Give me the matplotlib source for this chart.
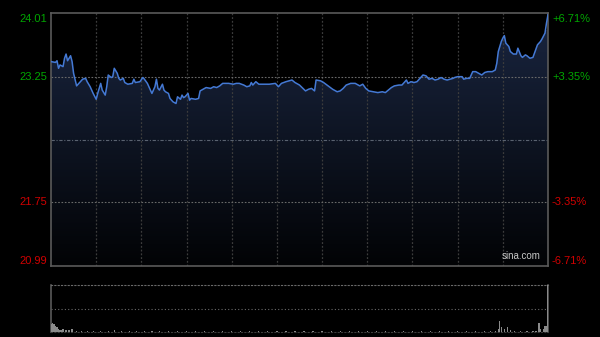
import numpy as np
import matplotlib
matplotlib.use("Agg")
import matplotlib.pyplot as plt
from matplotlib.patches import Polygon

# intraday price, minute index -> price
minutes = [0, 3, 4, 5, 6, 8, 9, 10, 11, 13, 14, 15, 17, 19, 21, 23, 24, 26, 28, 30,
           31, 33, 34, 36, 37, 38, 40, 41, 42, 44, 45, 46, 48, 49, 51, 54, 55, 56, 59, 61,
           62, 64, 66, 67, 68, 69, 70, 71, 72, 74, 75, 76, 78, 79, 81, 83, 84, 86, 87, 88,
           89, 91, 92, 93, 96, 98, 99, 101, 103, 106, 108, 110, 112, 114, 118, 121, 123, 125, 128, 130,
           132, 133, 134, 136, 138, 141, 145, 149, 151, 153, 156, 160, 162, 165, 169, 171, 173, 175, 176, 179,
           181, 184, 187, 190, 192, 194, 196, 199, 202, 205, 207, 209, 211, 214, 217, 220, 222, 224, 226, 228,
           231, 233, 234, 236, 237, 239, 241, 243, 245, 247, 249, 251, 253, 255, 257, 259, 261, 263, 265, 267,
           268, 270, 273, 274, 276, 278, 280, 282, 284, 286, 288, 290, 293, 295, 296, 297, 299, 300, 301, 302,
           304, 305, 307, 309, 310, 312, 313, 315, 316, 318, 320, 321, 323, 325, 326, 328, 329, 330]
prices = [23.43, 23.42, 23.44, 23.35, 23.39, 23.37, 23.47, 23.52, 23.44, 23.50, 23.43, 23.29, 23.14, 23.18, 23.22, 23.23, 23.19, 23.13, 23.05, 22.98,
          23.05, 23.17, 23.09, 23.03, 23.13, 23.27, 23.24, 23.25, 23.35, 23.29, 23.23, 23.21, 23.23, 23.18, 23.16, 23.17, 23.22, 23.18, 23.19, 23.24,
          23.22, 23.17, 23.09, 23.05, 23.09, 23.13, 23.22, 23.11, 23.09, 23.16, 23.09, 23.07, 23.05, 22.99, 22.95, 22.93, 23.01, 22.98, 23.03, 23.00,
          23.01, 23.05, 22.97, 22.99, 22.98, 22.99, 23.08, 23.10, 23.12, 23.11, 23.13, 23.12, 23.14, 23.17, 23.17, 23.16, 23.17, 23.17, 23.15, 23.13,
          23.14, 23.18, 23.15, 23.19, 23.16, 23.16, 23.16, 23.17, 23.13, 23.17, 23.19, 23.21, 23.18, 23.15, 23.08, 23.10, 23.11, 23.08, 23.21, 23.20,
          23.18, 23.14, 23.10, 23.07, 23.08, 23.11, 23.15, 23.17, 23.17, 23.14, 23.16, 23.11, 23.08, 23.07, 23.06, 23.07, 23.06, 23.09, 23.12, 23.14,
          23.15, 23.15, 23.17, 23.21, 23.17, 23.19, 23.18, 23.19, 23.23, 23.27, 23.26, 23.22, 23.23, 23.21, 23.22, 23.24, 23.22, 23.21, 23.22, 23.23,
          23.24, 23.25, 23.25, 23.22, 23.23, 23.23, 23.31, 23.31, 23.29, 23.27, 23.30, 23.31, 23.31, 23.33, 23.41, 23.55, 23.67, 23.71, 23.74, 23.65,
          23.61, 23.55, 23.52, 23.52, 23.59, 23.50, 23.48, 23.51, 23.50, 23.47, 23.48, 23.53, 23.63, 23.67, 23.70, 23.77, 23.89, 23.99]

# volume (relative), minute index -> volume
vol_minutes = [0, 1, 2, 3, 4, 5, 6, 7, 8, 10, 12, 14, 17, 20, 24, 28, 33, 38, 42, 47,
               52, 57, 62, 67, 72, 78, 84, 90, 96, 102, 108, 114, 120, 126, 132, 138, 144, 150, 156, 162,
               168, 174, 180, 186, 192, 198, 204, 210, 216, 222, 228, 234, 240, 246, 252, 258, 264, 270, 276, 282,
               288, 292, 295, 297, 298, 299, 301, 303, 305, 308, 312, 316, 320, 322, 324, 325, 327, 328, 329, 330]
volumes = [0.17, 0.19, 0.17, 0.13, 0.11, 0.07, 0.05, 0.04, 0.06, 0.04, 0.05, 0.07, 0.03, 0.03, 0.02, 0.03, 0.02, 0.02, 0.05, 0.02,
           0.02, 0.02, 0.02, 0.02, 0.02, 0.02, 0.02, 0.02, 0.02, 0.02, 0.02, 0.02, 0.02, 0.02, 0.02, 0.02, 0.02, 0.02, 0.02, 0.02,
           0.02, 0.02, 0.02, 0.02, 0.02, 0.02, 0.02, 0.02, 0.02, 0.02, 0.02, 0.02, 0.02, 0.02, 0.02, 0.02, 0.02, 0.02, 0.02, 0.02,
           0.02, 0.03, 0.03, 0.06, 0.24, 0.10, 0.06, 0.11, 0.04, 0.03, 0.02, 0.03, 0.02, 0.03, 0.20, 0.06, 0.07, 0.12, 0.13, 1.0]

prev_close = 22.50
y_top, y_bot = 24.01, 20.99
left_labels = ["24.01", "23.25", "21.75", "20.99"]
right_labels = ["+6.71%", "+3.35%", "-3.35%", "-6.71%"]
label_vals = [24.01, 23.25, 21.75, 20.99]
n_min = 330

GREEN = "#00a600"
RED = "#d00000"
GRID = "#3c3c3c"
BORDER = "#5a5a5a"
LINE = "#4479d4"

fig = plt.figure(figsize=(6, 3.37), dpi=100, facecolor="black")
ax = fig.add_axes([51 / 600, 71 / 337, 497 / 600, 253 / 337])
ax.set_facecolor("black")
ax.set_xlim(0, n_min)
ax.set_ylim(y_bot, y_top)

# gradient under the line
xs = np.array(minutes, dtype=float)
ys = np.array(prices)
verts = np.column_stack([np.r_[xs, xs[-1], xs[0]], np.r_[ys, y_bot, y_bot]])
poly = Polygon(verts, closed=True, facecolor="none", edgecolor="none")
ax.add_patch(poly)
grad = np.linspace(0, 1, 256).reshape(-1, 1)
cmap = matplotlib.colors.LinearSegmentedColormap.from_list("g", ["#020305", "#18233c"])
im = ax.imshow(grad, extent=[0, n_min, y_bot, 23.8], origin="lower", aspect="auto",
               cmap=cmap, zorder=1)
im.set_clip_path(poly)

# grid
for m in range(30, n_min, 30):
    ax.axvline(m, color=GRID, lw=0.9, ls=(0, (1.5, 1.5)), zorder=2)
for v in [23.25, 21.75]:
    ax.axhline(v, color="#6a6a6a", lw=0.8, ls=(0, (1.5, 1.5)), zorder=2)
ax.axhline(prev_close, color="#5a6270", lw=0.8, ls=(0, (3, 1.5, 1, 1.5)), zorder=2)

ax.plot(minutes, prices, color=LINE, lw=1.1, zorder=3)

for s in ax.spines.values():
    s.set_color(BORDER)
    s.set_linewidth(1.2)
ax.set_xticks([])
ax.set_yticks([])

# price / percent labels
offsets = [-6, 0, 0, 5]
for lab, rlab, v, off in zip(left_labels, right_labels, label_vals, offsets):
    col = GREEN if v > prev_close else RED
    ax.annotate(lab, (0, v), xycoords=("axes fraction", "data"), xytext=(-4, off),
                textcoords="offset pixels", ha="right", va="center",
                color=col, fontsize=8, family="Liberation Sans")
    ax.annotate(rlab, (1, v), xycoords=("axes fraction", "data"), xytext=(4, off),
                textcoords="offset pixels", ha="left", va="center",
                color=col, fontsize=8, family="Liberation Sans")

ax.text(0.985, 0.018, "sina.com", transform=ax.transAxes, ha="right", va="bottom",
        color="#c8c8c8", fontsize=7, family="Liberation Sans", zorder=4)

# volume panel
vax = fig.add_axes([51 / 600, 5 / 337, 497 / 600, 47 / 337])
vax.set_facecolor("black")
vax.set_xlim(0, n_min)
vax.set_ylim(0, max(volumes))
vax.bar(vol_minutes, volumes, width=0.8, color="#8a8a8a", zorder=3)
vax.axhline(max(volumes) / 2, color="#6a6a6a", lw=0.8, ls=(0, (1, 2)), zorder=2)
vax.spines["top"].set_color("#6a6a6a")
vax.spines["top"].set_linestyle((0, (1, 2)))
vax.spines["top"].set_linewidth(0.8)
vax.spines["bottom"].set_color("#3a3a3a")
vax.spines["bottom"].set_linestyle((0, (1, 2)))
vax.spines["bottom"].set_linewidth(0.8)
for side in ["left", "right"]:
    vax.spines[side].set_color(BORDER)
    vax.spines[side].set_linewidth(1.2)
vax.set_xticks([])
vax.set_yticks([])

fig.savefig("out.png", dpi=100, facecolor="black")
